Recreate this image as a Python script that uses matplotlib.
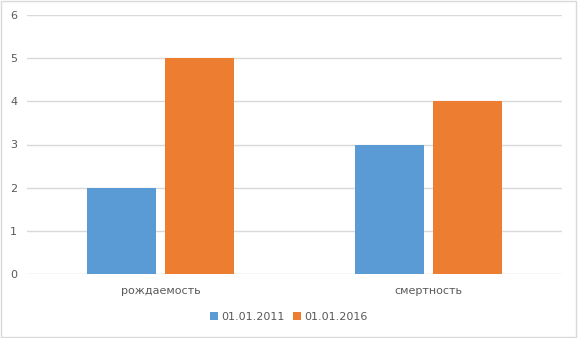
import matplotlib
matplotlib.use("Agg")
import matplotlib.pyplot as plt
import numpy as np
from matplotlib.patches import Rectangle

categories = ["рождаемость", "смертность"]
series_names = ["01.01.2011", "01.01.2016"]
values_2011 = [2, 3]
values_2016 = [5, 4]
yticks = [0, 1, 2, 3, 4, 5, 6]

colors = ["#5B9BD5", "#ED7D31"]
text_color = "#595959"

fig = plt.figure(figsize=(5.78, 3.38), dpi=100)
fig.patches.append(Rectangle((0.002, 0.003), 0.995, 0.994, transform=fig.transFigure,
                             fill=False, edgecolor="#D9D9D9", linewidth=1.0))
ax = fig.add_axes([27/578, 1-274/338, 535/578, 259/338])

x = np.arange(len(categories))
w = 0.258
off = 0.145
ax.bar(x - off, values_2011, w, color=colors[0], label=series_names[0], zorder=3)
ax.bar(x + off, values_2016, w, color=colors[1], label=series_names[1], zorder=3)

ax.set_xlim(-0.5, 1.5)
ax.set_ylim(0, 6)
ax.set_yticks(yticks)
ax.set_xticks(x)
ax.set_xticklabels(categories)
ax.yaxis.grid(True, color="#D9D9D9", linewidth=1.0, zorder=0)
for s in ax.spines.values():
    s.set_visible(False)
ax.tick_params(axis="both", length=0, colors=text_color, labelsize=8)
ax.tick_params(axis="y", pad=7)
ax.tick_params(axis="x", pad=9)

leg = fig.legend(loc="center", bbox_to_anchor=(0.5, 1-317/338), ncol=2, frameon=False,
                 fontsize=8, handlelength=0.7, handleheight=0.7, columnspacing=0.8,
                 handletextpad=0.3, labelcolor=text_color)

fig.savefig("out.png", dpi=100)
